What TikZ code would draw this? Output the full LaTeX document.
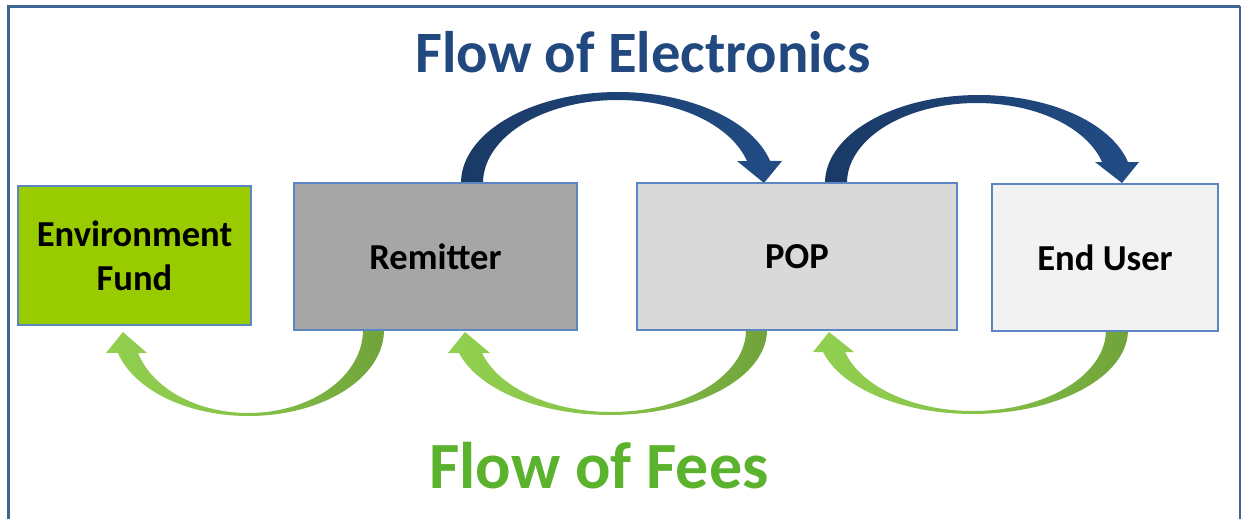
\documentclass[tikz,border=0pt]{standalone}
\usepackage{fontspec}
\setmainfont{Carlito}
\usetikzlibrary{positioning}
\definecolor{framecol}{HTML}{3F6594}
\definecolor{boxline}{HTML}{5B86C2}
\definecolor{fundfill}{HTML}{99CC00}
\definecolor{remfill}{HTML}{A6A6A6}
\definecolor{popfill}{HTML}{D9D9D9}
\definecolor{userfill}{HTML}{F2F2F2}
\definecolor{elecText}{HTML}{21497F}
\definecolor{feeText}{HTML}{5BB22C}
\definecolor{navyA}{HTML}{1A3A66}
\definecolor{navyB}{HTML}{214C84}
\definecolor{greenLight}{HTML}{92D050}
\definecolor{greenDark}{HTML}{70A33A}
\tikzset{
  entity/.style={draw=boxline, line width=1.4pt, rectangle, align=center,
    font=\fontsize{36.6}{44}\selectfont\bfseries, text=black},
  elecarrow/.style={left color=navyA, right color=navyB},
  feearrow/.style={left color=greenLight, right color=greenDark, middle color=greenLight!70!greenDark},
  bigtitle/.style={anchor=base, font=\fontsize{58.6}{66}\selectfont\bfseries},
}
\begin{document}
\begin{tikzpicture}[x=1pt,y=-1pt]
\useasboundingbox (0,0) rectangle (1243,519);
% frame
\draw[framecol, line width=3pt] (8,525) -- (8,6.5) -- (1240,6.5);
\draw[framecol, line width=2pt] (1240,6.5) -- (1240,525);

% top (electronics) arrows
\shade[elecarrow]
  plot[domain=180:14, samples=70] ({617.9+156.9*cos(\x)},{183-91*sin(\x)})
  -- (782,161) -- (764,183) -- (737,161) -- (747,161)
  -- plot[domain=15.4:180, samples=70] ({617.4+134.4*cos(\x)},{183-83*sin(\x)})
  -- cycle;
\shade[elecarrow]
  plot[domain=180:13.8, samples=70] ({978.7+153.7*cos(\x)},{183-88*sin(\x)})
  -- (1139,162) -- (1122,183) -- (1095,162) -- (1102,162)
  -- plot[domain=15.2:180, samples=70] ({976.8+129.8*cos(\x)},{183-80*sin(\x)})
  -- cycle;

% bottom (fees) arrows
\shade[feearrow]
  plot[domain=0:164.5, samples=70] ({248.5+135.5*cos(\x)},{330+86*sin(\x)})
  -- (106,353) -- (123,332) -- (147,353) -- (138,353)
  -- plot[domain=163.9:0, samples=70] ({248.3+114.7*cos(\x)},{330+83*sin(\x)})
  -- cycle;
\shade[feearrow]
  plot[domain=0:164.3, samples=70] ({610.1+156.9*cos(\x)},{330+85*sin(\x)})
  -- (448,353) -- (465,332) -- (490,353) -- (482,353)
  -- plot[domain=163.7:0, samples=70] ({611.3+134.7*cos(\x)},{330+82*sin(\x)})
  -- cycle;
\shade[feearrow]
  plot[domain=0:164.8, samples=70] ({972.8+155.2*cos(\x)},{330+84*sin(\x)})
  -- (813,352) -- (829,332) -- (854,352) -- (845,352)
  -- plot[domain=164.2:0, samples=70] ({973+133*cos(\x)},{330+81*sin(\x)})
  -- cycle;

% boxes
\node[entity, fill=fundfill, minimum width=233pt, minimum height=139pt] (fund) at (134.5,255.5) {Environment\\Fund};
\node[entity, fill=remfill, minimum width=283pt, minimum height=147pt] (rem) at (435.5,256.5) {Remitter};
\node[entity, fill=popfill, minimum width=320pt, minimum height=147pt] (pop) at (797,256.5) {POP};
\node[entity, fill=userfill, minimum width=226pt, minimum height=147pt] (user) at (1105,257.5) {End User};

% titles
\node[bigtitle, text=elecText] (elec) at (643,73) {Flow of Electronics};
\node[bigtitle, text=feeText, font=\fontsize{66}{74}\selectfont\bfseries] (fees) at (599,488) {Flow of Fees};
\end{tikzpicture}
\end{document}
